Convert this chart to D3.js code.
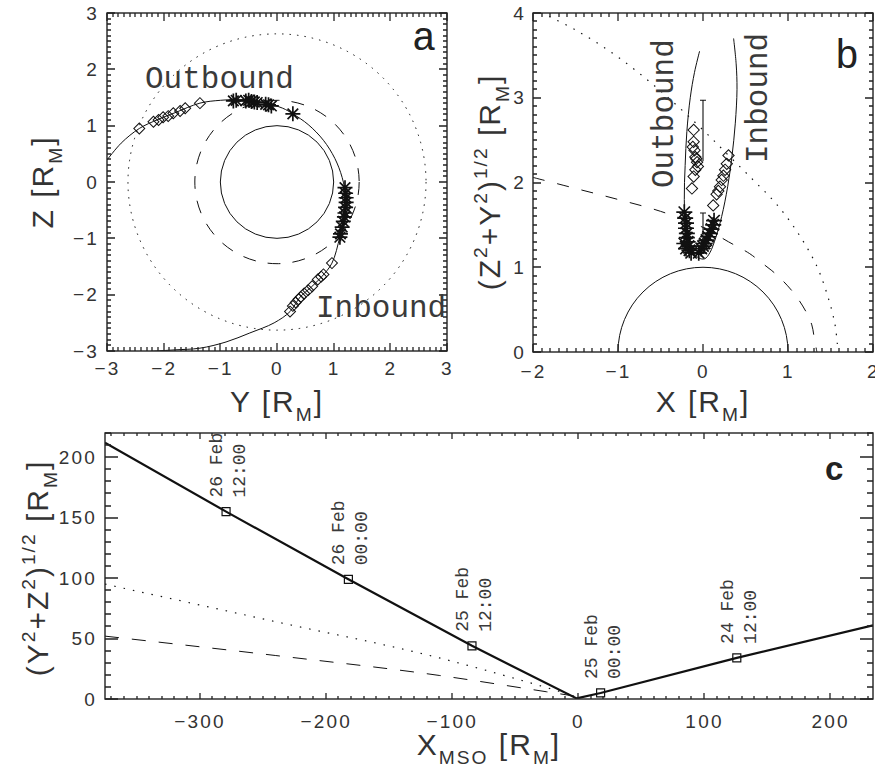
<!DOCTYPE html>
<html>
<head>
<meta charset="utf-8">
<script src="https://cdn.jsdelivr.net/npm/d3@7"></script>
<style>
  body { margin: 0; background: #fff; }
</style>
</head>
<body>
<svg id="canvas" width="875" height="768"></svg>
<script>
/** Panel a: Y-Z plane [R_M] */
const aDomain = [-3, 3];
const aTicks = [-3, -2, -1, 0, 1, 2, 3];
const ringRadii = [1, 1.45, 2.63]; // planet, magnetopause, bow shock
const orbitYZ = [
  [-3.0, 0.39], [-2.75, 0.69], [-2.43, 0.95], [-2.1, 1.11], [-1.8, 1.23], [-1.36, 1.40],
  [-1.0, 1.45], [-0.6, 1.46], [-0.2, 1.40], [0.1, 1.31], [0.28, 1.21], [0.55, 1.02],
  [0.82, 0.74], [1.02, 0.42], [1.15, 0.08], [1.21, -0.25], [1.19, -0.6], [1.11, -0.97],
  [0.97, -1.44], [0.79, -1.68], [0.61, -1.86], [0.41, -2.04], [0.23, -2.30], [-0.05, -2.50],
  [-0.48, -2.68], [-0.9, -2.84], [-1.36, -2.95], [-1.8, -2.98], [-2.12, -3.0], [-2.5, -3.03]
];
const aStars = [
  [-0.77, 1.44], [-0.72, 1.45], [-0.55, 1.44], [-0.5, 1.45], [-0.45, 1.43], [-0.4, 1.42],
  [-0.35, 1.41], [-0.2, 1.38], [-0.15, 1.37], [-0.1, 1.35], [0.28, 1.21],
  [1.20, -0.1], [1.21, -0.2], [1.22, -0.28], [1.22, -0.36], [1.21, -0.45], [1.20, -0.55],
  [1.19, -0.62], [1.17, -0.7], [1.15, -0.8], [1.12, -0.92], [1.11, -0.98]
];
const aDiamonds = [
  [-2.43, 0.95], [-2.18, 1.07], [-2.09, 1.10], [-2.01, 1.15], [-1.92, 1.17], [-1.83, 1.22],
  [-1.71, 1.26], [-1.62, 1.31], [-1.36, 1.40],
  [0.97, -1.44], [0.82, -1.64], [0.78, -1.68], [0.72, -1.73], [0.62, -1.85], [0.55, -1.92],
  [0.48, -1.98], [0.42, -2.04], [0.38, -2.08], [0.33, -2.14], [0.28, -2.2], [0.23, -2.30]
];

/** Panel b: X vs cylindrical distance [R_M] */
const bDomainX = [-2, 2];
const bDomainY = [0, 4];
const bTicksX = [-2, -1, 0, 1, 2];
const bTicksY = [0, 1, 2, 3, 4];
const magnetopauseXR = [
  [-2.0, 2.06], [-1.5, 1.93], [-1.0, 1.80], [-0.5, 1.66], [0.0, 1.47], [0.3, 1.30],
  [0.55, 1.16], [0.68, 1.06], [0.81, 0.96], [0.93, 0.85], [1.04, 0.73], [1.13, 0.61],
  [1.22, 0.46], [1.28, 0.32], [1.31, 0.16], [1.34, 0.0]
];
const bowShockXR = [
  [-2.0, 4.05], [-1.5, 3.80], [-1.0, 3.48], [-0.5, 3.08], [0.0, 2.62], [0.32, 2.30],
  [0.6, 2.02], [0.86, 1.75], [1.12, 1.40], [1.34, 1.01], [1.47, 0.65], [1.55, 0.34],
  [1.58, 0.10], [1.59, 0.0]
];
const orbitXR = [
  [-0.04, 3.55], [-0.10, 3.30], [-0.15, 3.00], [-0.19, 2.60], [-0.21, 2.20], [-0.22, 1.80],
  [-0.20, 1.45], [-0.13, 1.20], [-0.05, 1.11], [0.02, 1.10], [0.08, 1.17], [0.15, 1.35],
  [0.22, 1.60], [0.29, 1.95], [0.34, 2.30], [0.38, 2.70], [0.40, 3.10], [0.39, 3.40], [0.36, 3.70]
];
const bStars = [
  [-0.22, 1.65], [-0.21, 1.58], [-0.2, 1.52], [-0.2, 1.46], [-0.19, 1.40], [-0.19, 1.35],
  [-0.18, 1.30], [-0.17, 1.25], [-0.16, 1.20], [-0.14, 1.17], [-0.2, 1.22], [-0.22, 1.28],
  [-0.05, 1.17], [-0.02, 1.22], [0.0, 1.25], [0.02, 1.28], [0.04, 1.32], [0.06, 1.36],
  [0.08, 1.40], [0.10, 1.45], [0.12, 1.50], [0.13, 1.55]
];
const bDiamonds = [
  [-0.11, 2.62], [-0.11, 2.48], [-0.12, 2.42], [-0.10, 2.38], [-0.09, 2.30], [-0.08, 2.28],
  [-0.07, 2.24], [-0.06, 2.19], [-0.09, 2.15], [-0.11, 2.07], [-0.13, 1.93],
  [0.30, 2.32], [0.28, 2.22], [0.26, 2.15], [0.24, 2.08], [0.22, 2.03], [0.20, 1.95],
  [0.18, 1.90], [0.16, 1.86], [0.12, 1.73]
];
const bErrorBars = [[0.0, 2.25, 2.97], [0.0, 1.36, 1.64]]; // X, low, high

/** Panel c: X_MSO vs cylindrical distance [R_M] */
const cDomainX = [-375, 234];
const cDomainY = [0, 220];
const cTicksX = [-300, -200, -100, 0, 100, 200];
const cTicksY = [0, 50, 100, 150, 200];
const trackXR = [[-375, 212], [-279, 155], [-182, 99], [-84, 44], [-1, 0.5], [18, 5], [126, 34], [234, 61]];
const farBowShockXR = [[-375, 95], [-240, 64], [-110, 34], [-50, 17], [-4, 3]];
const farMagnetopauseXR = [[-375, 52], [-240, 36], [-110, 19.5], [-25, 6], [0, 2]];
const timeMarksXR = [[-279, 155], [-182, 99], [-84, 44], [18, 5], [126, 34]];
const timeMarkDays = ['26 Feb', '26 Feb', '25 Feb', '25 Feb', '24 Feb'];
const timeMarkHours = ['12:00', '00:00', '12:00', '00:00', '12:00'];

const svg = d3.select('#canvas');
const sansFont = "'Liberation Sans', Arial, Helvetica, sans-serif";
const monoFont = "'Liberation Mono', 'Courier New', monospace";
const ink = '#111';
const fmt = (d) => (d < 0 ? '\u2212' : '') + Math.abs(d);

/** Tick labels from d3 axes (no lines) */
const addLabels = (g, axisFn, scale, transform, major, pad) => {
  const ax = g.append('g').attr('transform', transform)
    .call(axisFn(scale).tickValues(major).tickSize(0).tickPadding(pad).tickFormat(fmt))
    .attr('font-family', sansFont).attr('font-size', 19).attr('letter-spacing', 2.2);
  ax.selectAll('.domain').remove();
  ax.selectAll('.tick line').remove();
  ax.selectAll('text').attr('fill', '#333');
};

/** Mirrored inward tick marks (IDL style), one path per panel */
const tickMarks = (g, x, y, o) => {
  const w = x.range()[1], h = y.range()[0];
  const xs = (vals, l) => vals.map((v) => {
    const p = Math.round(x(v));
    return `M${p},${h}v${-l}M${p},0v${l}`;
  }).join('');
  const ys = (vals, l) => vals.map((v) => {
    const p = Math.round(y(v));
    return `M0,${p}h${l}M${w},${p}h${-l}`;
  }).join('');
  g.append('path')
    .attr('d', xs(x.ticks(o.xMinor), o.xLen[1]) + xs(o.xTicks, o.xLen[0]) +
      ys(y.ticks(o.yMinor), o.yLen[1]) + ys(o.yTicks, o.yLen[0]))
    .attr('fill', 'none').attr('stroke', '#222').attr('stroke-width', 1.3);
};

const drawFrame = (g, x, y, o) => {
  const w = x.range()[1], h = y.range()[0];
  tickMarks(g, x, y, o);
  addLabels(g, d3.axisBottom, x, `translate(0,${h})`, o.xTicks, o.xPad);
  addLabels(g, d3.axisLeft, y, 'translate(0,0)', o.yTicks, o.yPad);
  g.append('rect').attr('width', w).attr('height', h)
    .attr('fill', 'none').attr('stroke', '#222').attr('stroke-width', 1.4);
};

/** Text with superscripts / subscripts */
const richText = (sel, parts, size) => {
  let off = 0;
  parts.forEach(([s, k]) => {
    const target = k === 'sup' ? -0.42 * size : k === 'sub' ? 0.3 * size : 0;
    sel.append('tspan').attr('dy', target - off).attr('font-size', k ? size * 0.64 : size).text(s);
    off = target;
  });
};

const title = (x, y, rotate, parts) => {
  const t = svg.append('text')
    .attr('transform', `translate(${x},${y})` + (rotate ? ' rotate(-90)' : ''))
    .attr('text-anchor', 'middle').attr('font-family', sansFont)
    .attr('letter-spacing', 2).attr('fill', '#333');
  richText(t, parts, 30);
};

const starPath = (r) => {
  const a = r * 0.707;
  return `M${-r},0L${r},0M0,${-r}L0,${r}M${-a},${-a}L${a},${a}M${-a},${a}L${a},${-a}`;
};

const drawStars = (g, pts, x, y, r) => {
  g.append('g').selectAll('path').data(pts).join('path')
    .attr('transform', (d) => `translate(${x(d[0])},${y(d[1])})`)
    .attr('d', starPath(r))
    .attr('stroke', ink).attr('stroke-width', 1.7).attr('fill', 'none');
};

const drawDiamonds = (g, pts, x, y, size) => {
  g.append('g').selectAll('path').data(pts).join('path')
    .attr('transform', (d) => `translate(${x(d[0])},${y(d[1])}) rotate(45)`)
    .attr('d', d3.symbol().type(d3.symbolSquare).size(size))
    .attr('stroke', ink).attr('stroke-width', 1).attr('fill', 'none');
};

const addClip = (id, w, h) => {
  svg.append('clipPath').attr('id', id).append('rect').attr('width', w).attr('height', h);
};

/** ---------- Panel a ---------- */
const ga = svg.append('g').attr('transform', 'translate(107,13)');
const xa = d3.scaleLinear().domain(aDomain).range([0, 340]);
const ya = d3.scaleLinear().domain(aDomain).range([338, 0]);
addClip('clip-a', 340, 338);
const da = ga.append('g').attr('clip-path', 'url(#clip-a)');
const ringDash = [null, '13,12', '1.5,6'];

da.selectAll('ellipse').data(ringRadii).join('ellipse')
  .attr('cx', xa(0)).attr('cy', ya(0))
  .attr('rx', (d) => xa(d) - xa(0)).attr('ry', (d) => ya(0) - ya(d))
  .attr('fill', 'none').attr('stroke', ink).attr('stroke-width', 1)
  .attr('stroke-dasharray', (d, i) => ringDash[i]);

da.append('path').datum(orbitYZ)
  .attr('d', d3.line().x((d) => xa(d[0])).y((d) => ya(d[1])).curve(d3.curveCatmullRom))
  .attr('fill', 'none').attr('stroke', ink).attr('stroke-width', 1);
drawDiamonds(da, aDiamonds, xa, ya, 60);
drawStars(da, aStars, xa, ya, 7.5);

drawFrame(ga, xa, ya, {
  xTicks: aTicks, yTicks: aTicks, xMinor: 60, yMinor: 60,
  xLen: [8, 4], yLen: [8, 4], xPad: 11, yPad: 8
});

ga.append('text').attr('x', 38).attr('y', 75).attr('font-family', monoFont)
  .attr('font-size', 31).attr('fill', '#3a3a3a').text('Outbound');
ga.append('text').attr('x', 209).attr('y', 304).attr('font-family', monoFont)
  .attr('font-size', 31).attr('fill', '#3a3a3a').text('Inbound');
ga.append('text').attr('x', 305).attr('y', 37).attr('font-family', monoFont)
  .attr('font-size', 40).attr('fill', '#222').text('a');

title(277, 412, false, [['Y ', ''], ['[R', ''], ['M', 'sub'], [']', '']]);
title(53, 182, true, [['Z ', ''], ['[R', ''], ['M', 'sub'], [']', '']]);

/** ---------- Panel b ---------- */
const gb = svg.append('g').attr('transform', 'translate(533,13)');
const xb = d3.scaleLinear().domain(bDomainX).range([0, 340]);
const yb = d3.scaleLinear().domain(bDomainY).range([339, 0]);
addClip('clip-b', 340, 339);
const db = gb.append('g').attr('clip-path', 'url(#clip-b)');
const lineB = d3.line().x((d) => xb(d[0])).y((d) => yb(d[1])).curve(d3.curveCatmullRom);

db.append('ellipse').attr('cx', xb(0)).attr('cy', yb(0))
  .attr('rx', xb(ringRadii[0]) - xb(0)).attr('ry', yb(0) - yb(ringRadii[0]))
  .attr('fill', 'none').attr('stroke', ink).attr('stroke-width', 1);
db.append('path').datum(magnetopauseXR).attr('d', lineB)
  .attr('fill', 'none').attr('stroke', ink).attr('stroke-dasharray', '12,13');
db.append('path').datum(bowShockXR).attr('d', lineB)
  .attr('fill', 'none').attr('stroke', ink).attr('stroke-width', 1.2).attr('stroke-dasharray', '1.5,7.5');
db.append('path').datum(orbitXR).attr('d', lineB)
  .attr('fill', 'none').attr('stroke', ink).attr('stroke-width', 1);

const eb = db.append('g').attr('stroke', ink).attr('stroke-width', 1.1).attr('fill', 'none');
eb.selectAll('path').data(bErrorBars).join('path')
  .attr('d', (d) => `M${xb(d[0])},${yb(d[1])}V${yb(d[2])}M${xb(d[0]) - 3},${yb(d[2])}H${xb(d[0]) + 3}`);

drawDiamonds(db, bDiamonds, xb, yb, 64);
drawStars(db, bStars, xb, yb, 8);

drawFrame(gb, xb, yb, {
  xTicks: bTicksX, yTicks: bTicksY, xMinor: 40, yMinor: 40,
  xLen: [8, 4], yLen: [8, 4], xPad: 13, yPad: 7
});

gb.append('text').attr('transform', 'translate(140,175) rotate(-90)').attr('font-family', monoFont)
  .attr('font-size', 31).attr('fill', '#3a3a3a').text('Outbound');
gb.append('text').attr('transform', 'translate(234,150) rotate(-90)').attr('font-family', monoFont)
  .attr('font-size', 31).attr('fill', '#3a3a3a').text('Inbound');
gb.append('text').attr('x', 302).attr('y', 55).attr('font-family', monoFont)
  .attr('font-size', 40).attr('fill', '#222').text('b');

title(703, 412, false, [['X ', ''], ['[R', ''], ['M', 'sub'], [']', '']]);
title(500, 182, true, [['(Z', ''], ['2', 'sup'], ['+Y', ''], ['2', 'sup'], [')', ''], ['1/2', 'sup'],
  [' [R', ''], ['M', 'sub'], [']', '']]);

/** ---------- Panel c ---------- */
const gc = svg.append('g').attr('transform', 'translate(105,433)');
const xc = d3.scaleLinear().domain(cDomainX).range([0, 768]);
const yc = d3.scaleLinear().domain(cDomainY).range([266, 0]);
addClip('clip-c', 768, 266);
const dc = gc.append('g').attr('clip-path', 'url(#clip-c)');
const lineC = d3.line().x((d) => xc(d[0])).y((d) => yc(d[1]));

dc.append('path').datum(farMagnetopauseXR).attr('d', lineC.curve(d3.curveMonotoneX))
  .attr('fill', 'none').attr('stroke', ink).attr('stroke-dasharray', '14,13');
dc.append('path').datum(farBowShockXR).attr('d', lineC.curve(d3.curveMonotoneX))
  .attr('fill', 'none').attr('stroke', ink).attr('stroke-width', 1.2).attr('stroke-dasharray', '1.5,8');
dc.append('path').datum(trackXR).attr('d', lineC.curve(d3.curveLinear))
  .attr('fill', 'none').attr('stroke', ink).attr('stroke-width', 2.2);

dc.append('g').selectAll('path').data(timeMarksXR).join('path')
  .attr('transform', (d) => `translate(${xc(d[0])},${yc(d[1])})`)
  .attr('d', d3.symbol().type(d3.symbolSquare).size(64))
  .attr('fill', 'none').attr('stroke', ink).attr('stroke-width', 1.2);

const marks = gc.append('g').selectAll('g').data(timeMarksXR).join('g')
  .attr('transform', (d) => `translate(${xc(d[0])},${yc(d[1]) - 14}) rotate(-90)`)
  .attr('font-family', monoFont).attr('font-size', 18).attr('fill', '#3a3a3a');
marks.append('text').attr('y', -4).text((d, i) => timeMarkDays[i]);
marks.append('text').attr('y', 19).text((d, i) => timeMarkHours[i]);

drawFrame(gc, xc, yc, {
  xTicks: cTicksX, yTicks: cTicksY, xMinor: 61, yMinor: 22,
  xLen: [6, 3], yLen: [13, 6], xPad: 16, yPad: 8
});

gc.append('text').attr('x', 720).attr('y', 47).attr('font-family', sansFont)
  .attr('font-weight', 'bold').attr('font-size', 33).attr('fill', '#222').text('c');

title(489, 755, false, [['X', ''], ['MSO', 'sub'], [' [R', ''], ['M', 'sub'], [']', '']]);
title(48, 568, true, [['(Y', ''], ['2', 'sup'], ['+Z', ''], ['2', 'sup'], [')', ''], ['1/2', 'sup'],
  [' [R', ''], ['M', 'sub'], [']', '']]);
</script>
</body>
</html>
